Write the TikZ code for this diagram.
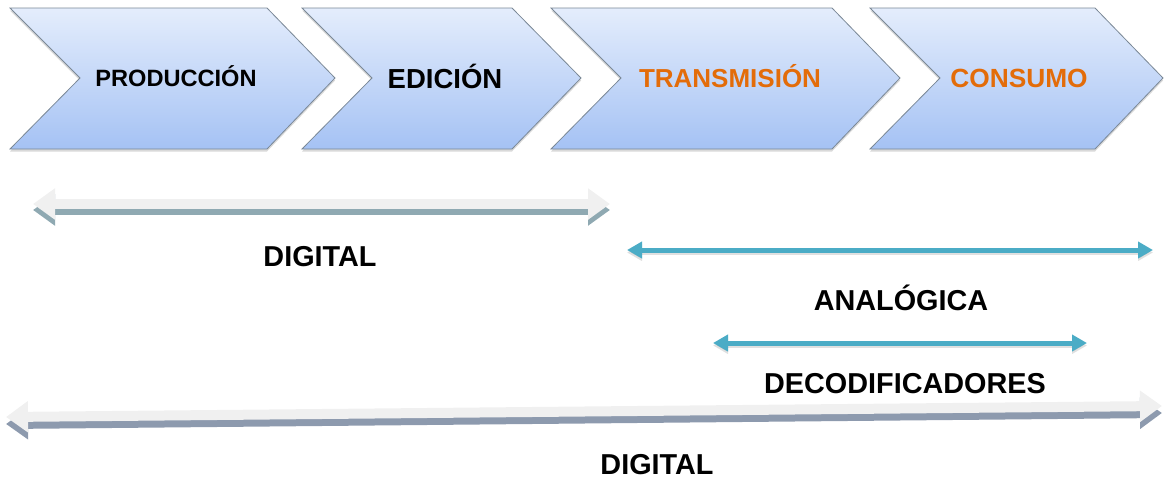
\documentclass[tikz,border=0pt]{standalone}
\usepackage{fontspec}
\setmainfont{Liberation Sans}
\usetikzlibrary{arrows.meta,shadows}
\definecolor{chevtop}{HTML}{E4EDFC}
\definecolor{chevbot}{HTML}{A5C2F4}
\definecolor{chevline}{HTML}{7A8896}
\definecolor{orng}{HTML}{E36C09}
\definecolor{tealarr}{HTML}{4BACC6}
\definecolor{lightface}{HTML}{F0F0F0}
\definecolor{darkA}{HTML}{8FA9B2}
\definecolor{darkB}{HTML}{8D9AAE}
\begin{document}
\begin{tikzpicture}[x=1pt,y=-1pt,
  chev/.style={draw=chevline, line width=0.8pt, top color=chevtop, bottom color=chevbot,
    drop shadow={opacity=0.25, shadow xshift=0pt, shadow yshift=-2.5pt, fill=black!60}},
  chevtxt/.style={inner sep=0pt, anchor=base},
  lbl/.style={font=\fontsize{28.8}{32}\selectfont\bfseries, inner sep=0pt, anchor=base},
  gface/.style={line width=10pt, color=lightface,
    {Triangle[length=22pt,width=30pt]}-{Triangle[length=22pt,width=30pt]}},
  gside/.style={line width=10pt,
    {Triangle[length=22pt,width=30pt]}-{Triangle[length=22pt,width=30pt]}},
  tarr/.style={line width=5pt, color=tealarr,
    {Triangle[length=15pt,width=16pt]}-{Triangle[length=15pt,width=16pt]}},
  tshadow/.style={line width=5pt, color=black, opacity=0.12,
    {Triangle[length=15pt,width=16pt]}-{Triangle[length=15pt,width=16pt]}}
]
\useasboundingbox (0,0) rectangle (1165,480);

% chevrons
\path[chev] (10,8) -- (267,8) -- (335,78) -- (267,149) -- (10,149) -- (80,78) -- cycle;
\path[chev] (302,8) -- (512,8) -- (581,78) -- (512,149) -- (302,149) -- (372,78) -- cycle;
\path[chev] (551,8) -- (832,8) -- (900,78) -- (832,149) -- (551,149) -- (621,78) -- cycle;
\path[chev] (870,8) -- (1095,8) -- (1163,78) -- (1095,149) -- (870,149) -- (940,78) -- cycle;

\node[chevtxt, font=\fontsize{23.6}{26}\selectfont\bfseries] (prod) at (176,86.5) {PRODUCCIÓN};
\node[chevtxt, font=\fontsize{27.5}{30}\selectfont\bfseries] (edic) at (445,88) {EDICIÓN};
\node[chevtxt, font=\fontsize{26}{28}\selectfont\bfseries, text=orng] (trans) at (730,87) {TRANSMISIÓN};
\node[chevtxt, font=\fontsize{26.3}{28}\selectfont\bfseries, text=orng] (cons) at (1019,87) {CONSUMO};

% upper gray arrow (DIGITAL)
\coordinate (dA1) at (33,204);
\coordinate (dA2) at (610,204);
\draw[gside, color=darkA] ([yshift=-6pt]dA1) -- ([yshift=-6pt]dA2);
\draw[gface] (dA1) -- (dA2);
\node[lbl] (dig1) at (320,266) {DIGITAL};

% ANALÓGICA arrow
\coordinate (an1) at (627,250);
\coordinate (an2) at (1153,250);
\draw[tshadow] ([yshift=-2.5pt]an1) -- ([yshift=-2.5pt]an2);
\draw[tarr] (an1) -- (an2);
\node[lbl] (ana) at (901,310) {ANALÓGICA};

% DECODIFICADORES arrow
\coordinate (de1) at (713,343);
\coordinate (de2) at (1087,343);
\draw[tshadow] ([yshift=-2.5pt]de1) -- ([yshift=-2.5pt]de2);
\draw[tarr] (de1) -- (de2);
\node[lbl] (deco) at (905,393) {DECODIFICADORES};

% lower long gray arrow (DIGITAL)
\coordinate (dB1) at (6,417);
\coordinate (dB2) at (1162,406);
\draw[gside, color=darkB] ([yshift=-7pt]dB1) -- ([yshift=-7pt]dB2);
\draw[gface] (dB1) -- (dB2);
\node[lbl] (dig2) at (657,474) {DIGITAL};
\end{tikzpicture}
\end{document}
